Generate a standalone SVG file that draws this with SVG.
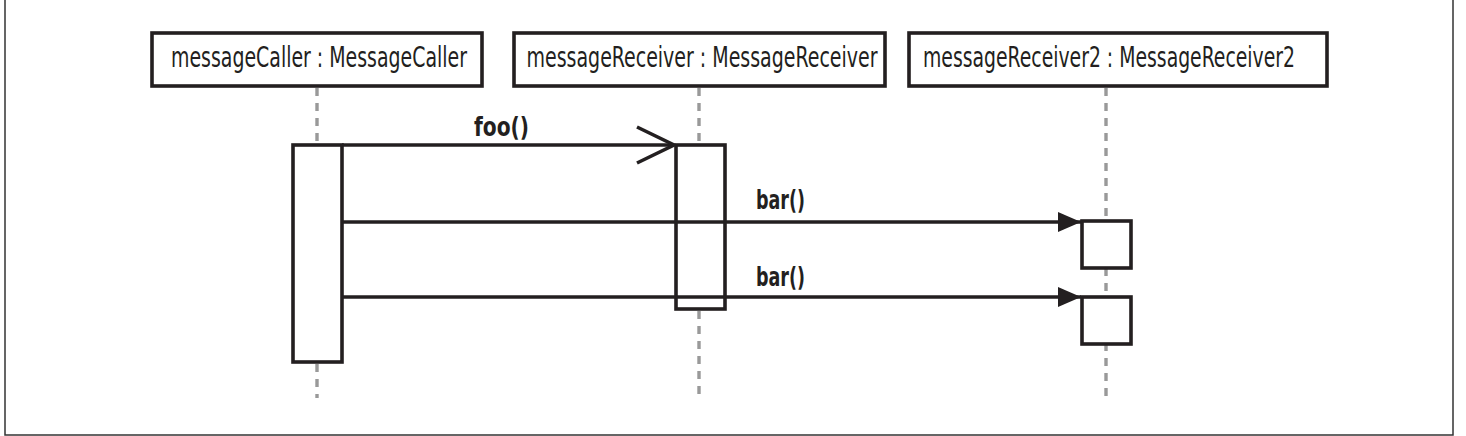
<svg xmlns="http://www.w3.org/2000/svg" width="1466" height="436" viewBox="0 0 1466 436">
<style>
.frame{fill:none;stroke:#333;stroke-width:1.5}
.box{fill:#fff;stroke:#231f20;stroke-width:3.6}
.act{fill:#fff;stroke:#231f20;stroke-width:3.6}
.life{stroke:#999;stroke-width:3.4;stroke-dasharray:8 7;fill:none}
.msg{stroke:#231f20;stroke-width:3.6;fill:none}
.lbl{font-family:"Liberation Sans Narrow","DejaVu Sans Condensed","Liberation Sans",sans-serif;font-size:28px;fill:#231f20}
.mlbl{font-family:"Liberation Sans Narrow","DejaVu Sans Condensed","Liberation Sans",sans-serif;font-size:27px;font-weight:bold;fill:#231f20}
</style>
<defs>
<marker id="open" markerUnits="userSpaceOnUse" markerWidth="44" markerHeight="44" refX="38" refY="20" orient="auto" viewBox="0 0 44 40">
<path d="M1,2 L38,20 L1,38" fill="none" stroke="#231f20" stroke-width="3.6"/>
</marker>
<marker id="filled" markerUnits="userSpaceOnUse" markerWidth="24" markerHeight="22" refX="23" refY="11" orient="auto" viewBox="0 0 24 22">
<path d="M0,1 L23,11 L0,21 Z" fill="#231f20"/>
</marker>
</defs>
<rect class="frame" x="5" y="-2" width="1448" height="437"/>
<g id="lifelines">
<line class="life" x1="317" y1="88" x2="317" y2="144"/>
<line class="life" x1="317" y1="364" x2="317" y2="398"/>
<line class="life" x1="699" y1="88" x2="699" y2="143"/>
<line class="life" x1="699" y1="311" x2="699" y2="398"/>
<line class="life" x1="1106" y1="88" x2="1106" y2="398"/>
</g>
<g id="messageCaller">
<rect class="box" x="152" y="33" width="330" height="53"/>
<text class="lbl" x="319" y="67" text-anchor="middle" textLength="296" lengthAdjust="spacingAndGlyphs">messageCaller : MessageCaller</text>
<rect class="act" x="293" y="145" width="49" height="217"/>
</g>
<g id="messageReceiver">
<rect class="box" x="514" y="33" width="371" height="53"/>
<text class="lbl" x="702" y="67" text-anchor="middle" textLength="351" lengthAdjust="spacingAndGlyphs">messageReceiver : MessageReceiver</text>
<rect class="act" x="676" y="145" width="49" height="164"/>
</g>
<g id="messageReceiver2">
<rect class="box" x="909" y="33" width="418" height="53"/>
<text class="lbl" x="1109" y="67" text-anchor="middle" textLength="372" lengthAdjust="spacingAndGlyphs">messageReceiver2 : MessageReceiver2</text>
<rect class="act" x="1082" y="221" width="49" height="47"/>
<rect class="act" x="1082" y="297" width="49" height="47"/>
</g>
<g id="connectors">
<line class="msg" x1="342" y1="145" x2="674" y2="145" marker-end="url(#open)"/>
<text class="mlbl" x="474" y="136" textLength="55" lengthAdjust="spacingAndGlyphs">foo()</text>
<line class="msg" x1="342" y1="222" x2="1081" y2="222" marker-end="url(#filled)"/>
<text class="mlbl" x="756" y="209" textLength="49" lengthAdjust="spacingAndGlyphs">bar()</text>
<line class="msg" x1="342" y1="297" x2="1081" y2="297" marker-end="url(#filled)"/>
<text class="mlbl" x="756" y="286" textLength="49" lengthAdjust="spacingAndGlyphs">bar()</text>
</g>
</svg>
